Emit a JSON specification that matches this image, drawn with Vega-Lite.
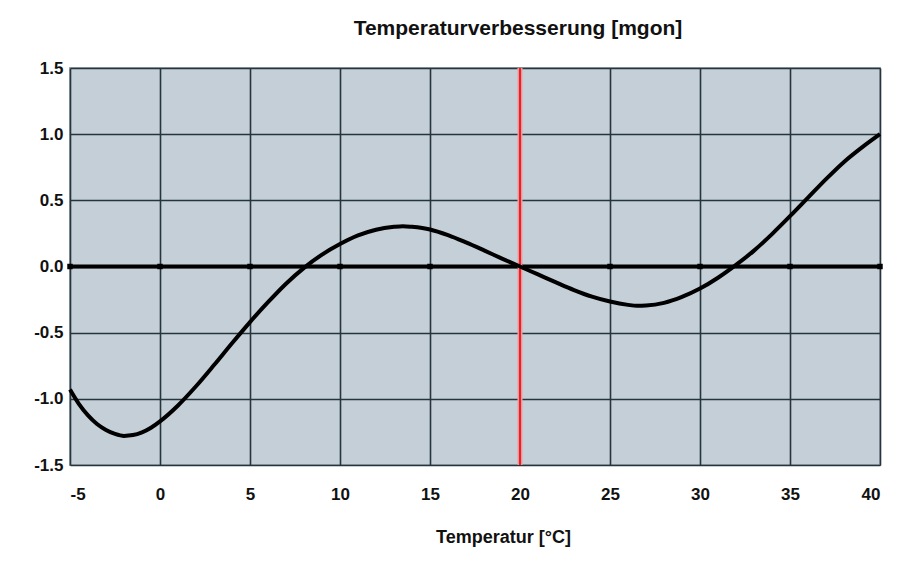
{
  "$schema": "https://vega.github.io/schema/vega-lite/v6.json",
  "width": 810,
  "height": 397,
  "autosize": "none",
  "padding": {"left": 70, "top": 68, "right": 42, "bottom": 107},
  "background": "#ffffff",
  "title": {
    "text": "Temperaturverbesserung [mgon]",
    "font": "Liberation Sans",
    "fontSize": 21,
    "fontWeight": "bold",
    "color": "#111111",
    "anchor": "middle",
    "dx": 43,
    "offset": 20
  },
  "config": {
    "view": {"fill": "#c4cfd7", "stroke": "#9fabb3", "strokeWidth": 2},
    "axis": {
      "labelFont": "Liberation Sans",
      "labelFontWeight": "bold",
      "labelColor": "#111111",
      "titleFont": "Liberation Sans",
      "titleFontWeight": "bold",
      "titleColor": "#111111",
      "domain": false,
      "ticks": false,
      "gridColor": "#26343c",
      "gridWidth": 1.6,
      "gridOpacity": 1
    }
  },
  "datasets": {
    "curve": [
      {"t": -5, "v": -0.93}, {"t": -4.5, "v": -1.04}, {"t": -4, "v": -1.125}, {"t": -3.5, "v": -1.19},
      {"t": -3, "v": -1.235}, {"t": -2.5, "v": -1.265}, {"t": -2, "v": -1.28}, {"t": -1.5, "v": -1.274},
      {"t": -1, "v": -1.253}, {"t": -0.5, "v": -1.218}, {"t": 0, "v": -1.17}, {"t": 1, "v": -1.05},
      {"t": 2, "v": -0.905}, {"t": 3, "v": -0.745}, {"t": 4, "v": -0.58}, {"t": 5, "v": -0.42},
      {"t": 6, "v": -0.27}, {"t": 7, "v": -0.13}, {"t": 8, "v": -0.01}, {"t": 9, "v": 0.09},
      {"t": 10, "v": 0.17}, {"t": 11, "v": 0.235}, {"t": 12, "v": 0.278}, {"t": 13, "v": 0.3},
      {"t": 13.5, "v": 0.305}, {"t": 14, "v": 0.3}, {"t": 15, "v": 0.28}, {"t": 16, "v": 0.237},
      {"t": 17, "v": 0.182}, {"t": 18, "v": 0.122}, {"t": 19, "v": 0.06}, {"t": 20, "v": 0.0},
      {"t": 21, "v": -0.06}, {"t": 22, "v": -0.12}, {"t": 23, "v": -0.178}, {"t": 24, "v": -0.228},
      {"t": 25, "v": -0.265}, {"t": 26, "v": -0.29}, {"t": 26.5, "v": -0.297}, {"t": 27, "v": -0.295},
      {"t": 28, "v": -0.275}, {"t": 29, "v": -0.23}, {"t": 30, "v": -0.167}, {"t": 31, "v": -0.085},
      {"t": 32, "v": 0.012}, {"t": 33, "v": 0.12}, {"t": 34, "v": 0.245}, {"t": 35, "v": 0.38},
      {"t": 36, "v": 0.52}, {"t": 37, "v": 0.66}, {"t": 38, "v": 0.79}, {"t": 39, "v": 0.9},
      {"t": 40, "v": 1.0}
    ],
    "zero": [
      {"t": -5, "v": 0}, {"t": 0, "v": 0}, {"t": 5, "v": 0}, {"t": 10, "v": 0}, {"t": 15, "v": 0},
      {"t": 20, "v": 0}, {"t": 25, "v": 0}, {"t": 30, "v": 0}, {"t": 35, "v": 0}, {"t": 40, "v": 0}
    ],
    "ref": [{"t": 20, "lo": -1.5, "hi": 1.5}]
  },
  "encoding": {
    "x": {
      "field": "t",
      "type": "quantitative",
      "scale": {"domain": [-5, 40], "nice": false, "zero": false},
      "axis": {
        "values": [-5, 0, 5, 10, 15, 20, 25, 30, 35, 40],
        "labelExpr": "replace(datum.label, '\u2212', '-')",
        "labelFontSize": 17,
        "labelPadding": 21,
        "title": "Temperatur [°C]",
        "titleFontSize": 18,
        "titleX": 433,
        "titleY": 77,
        "titleBaseline": "alphabetic",
        "titleAnchor": "start",
        "titleAlign": "center"
      }
    },
    "y": {
      "field": "v",
      "type": "quantitative",
      "scale": {"domain": [-1.5, 1.5], "nice": false, "zero": false},
      "axis": {
        "values": [-1.5, -1, -0.5, 0, 0.5, 1, 1.5],
        "format": ".1f",
        "labelExpr": "replace(datum.label, '\u2212', '-')",
        "labelFontSize": 17,
        "labelPadding": 7,
        "title": null
      }
    }
  },
  "layer": [
    {
      "data": {"name": "zero"},
      "mark": {"type": "line", "color": "#000000", "strokeWidth": 4},
      "encoding": {}
    },
    {
      "data": {"name": "zero"},
      "mark": {"type": "point", "shape": "square", "filled": true, "color": "#000000", "size": 30, "opacity": 1},
      "encoding": {}
    },
    {
      "data": {"name": "ref"},
      "mark": {"type": "rule", "color": "#f2a0a0", "strokeWidth": 5},
      "encoding": {"y": {"field": "lo", "type": "quantitative"}, "y2": {"field": "hi"}}
    },
    {
      "data": {"name": "ref"},
      "mark": {"type": "rule", "color": "#e0242a", "strokeWidth": 2.2},
      "encoding": {"y": {"field": "lo", "type": "quantitative"}, "y2": {"field": "hi"}}
    },
    {
      "data": {"name": "curve"},
      "mark": {"type": "line", "color": "#000000", "strokeWidth": 4, "interpolate": "monotone"},
      "encoding": {}
    }
  ]
}
